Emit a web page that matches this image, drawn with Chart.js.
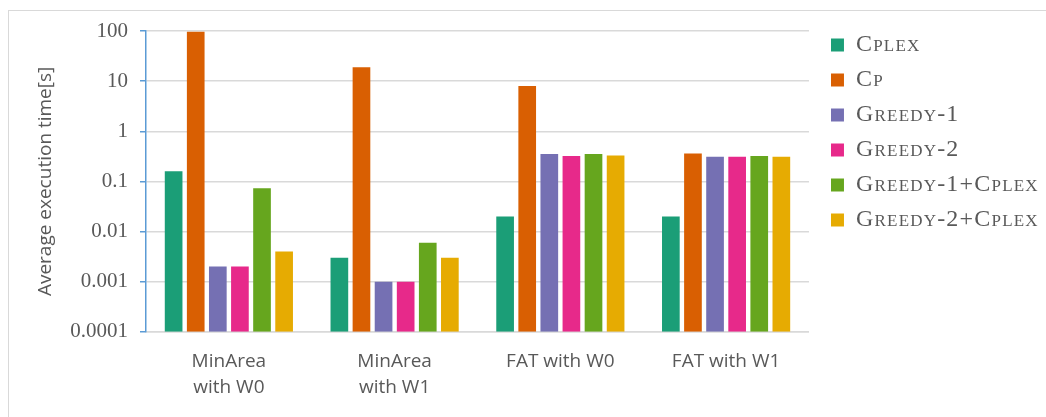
<!DOCTYPE html>
<html>
<head>
<meta charset="utf-8">
<script src="https://cdn.jsdelivr.net/npm/chart.js@4"></script>
<style>
  html, body { margin: 0; padding: 0; background: #fff; overflow: hidden; }
  #wrap { position: relative; width: 1046px; height: 417px; }
  #frame { position: absolute; left: 8px; top: 10px; width: 1100px; height: 500px; border: 1px solid #d9d9d9; }
  canvas { position: absolute; left: 0; top: 0; }
</style>
</head>
<body>
<div id="wrap">
  <div id="frame"></div>
  <canvas id="myChart" width="1046" height="417"></canvas>
</div>
<script>
// categories on the x axis (two lines where the original wraps)
var categories = [["MinArea", "with W0"], ["MinArea", "with W1"], "FAT with W0", "FAT with W1"];

// series names and values (seconds)
var seriesNames = ["Cplex", "Cp", "Greedy-1", "Greedy-2", "Greedy-1+Cplex", "Greedy-2+Cplex"];
var cplex = [0.16, 0.003, 0.02, 0.02];
var cp = [97, 19, 8, 0.36];
var greedy1 = [0.002, 0.001, 0.35, 0.31];
var greedy2 = [0.002, 0.001, 0.32, 0.31];
var greedy1Cplex = [0.073, 0.006, 0.35, 0.32];
var greedy2Cplex = [0.004, 0.003, 0.33, 0.31];
var seriesColors = ["#1b9e77", "#d95f02", "#7570b3", "#e7298a", "#66a61e", "#e6ab02"];

// y axis ticks
var yTicks = [0.0001, 0.001, 0.01, 0.1, 1, 10, 100];

var seriesValues = [cplex, cp, greedy1, greedy2, greedy1Cplex, greedy2Cplex];
var datasets = [];
for (var i = 0; i < seriesNames.length; i++) {
    datasets.push({
        label: seriesNames[i],
        data: seriesValues[i],
        backgroundColor: seriesColors[i],
        borderWidth: 0,
        barPercentage: 0.8,
        categoryPercentage: 0.8
    });
}

// nudge the legend like the original and space its letters a bit
var legendTweak = {
    id: "legendTweak",
    afterLayout: function(chart) {
        var legend = chart.legend;
        legend.left += 11;
        legend.right = chart.width;
        legend.width = legend.right - legend.left;
        legend.top -= 9;
        legend.bottom -= 9;
        if (!legend._spaced) {
            var origDraw = legend.draw;
            legend.draw = function() {
                var c = this.ctx;
                c.save();
                c.letterSpacing = "1.2px";
                origDraw.apply(this, arguments);
                c.restore();
            };
            legend._spaced = true;
        }
    }
};

var ctx = document.getElementById("myChart").getContext("2d");
var myChart = new Chart(ctx, {
    type: "bar",
    data: { labels: categories, datasets: datasets },
    plugins: [legendTweak],
    options: {
        responsive: false,
        animation: false,
        layout: { padding: { left: 0, right: 25, top: 31, bottom: 8 } },
        plugins: {
            tooltip: { enabled: false },
            legend: {
                position: "right",
                align: "start",
                labels: {
                    boxWidth: 13,
                    boxHeight: 13,
                    padding: 11,
                    color: "#595959",
                    font: { family: "'Liberation Serif', 'Times New Roman', serif", size: 24, weight: "small-caps" }
                }
            }
        },
        scales: {
            x: {
                grid: { display: false },
                border: { color: "#d9d9d9", width: 1.5 },
                ticks: {
                    color: "#595959",
                    padding: 8,
                    font: { family: "'Open Sans', sans-serif", size: 19, lineHeight: 1.4 }
                }
            },
            y: {
                type: "logarithmic",
                min: 0.0001,
                max: 100,
                afterBuildTicks: function(scale) {
                    scale.ticks = yTicks.map(function(v) { return { value: v }; });
                },
                afterFit: function(scale) { scale.width = 146; },
                grid: { color: "#d9d9d9", lineWidth: 1.5, tickColor: "#5b9bd5", tickLength: 6 },
                border: { color: "#5b9bd5", width: 1.5 },
                ticks: {
                    color: "#595959",
                    padding: 12,
                    font: { family: "'Liberation Serif', 'Times New Roman', serif", size: 21 },
                    callback: function(value) { return String(value); }
                },
                title: {
                    display: true,
                    text: "Average execution time[s]",
                    color: "#595959",
                    padding: { top: 34, bottom: 0 },
                    font: { family: "'Open Sans', sans-serif", size: 19 }
                }
            }
        }
    }
});
</script>
</body>
</html>
